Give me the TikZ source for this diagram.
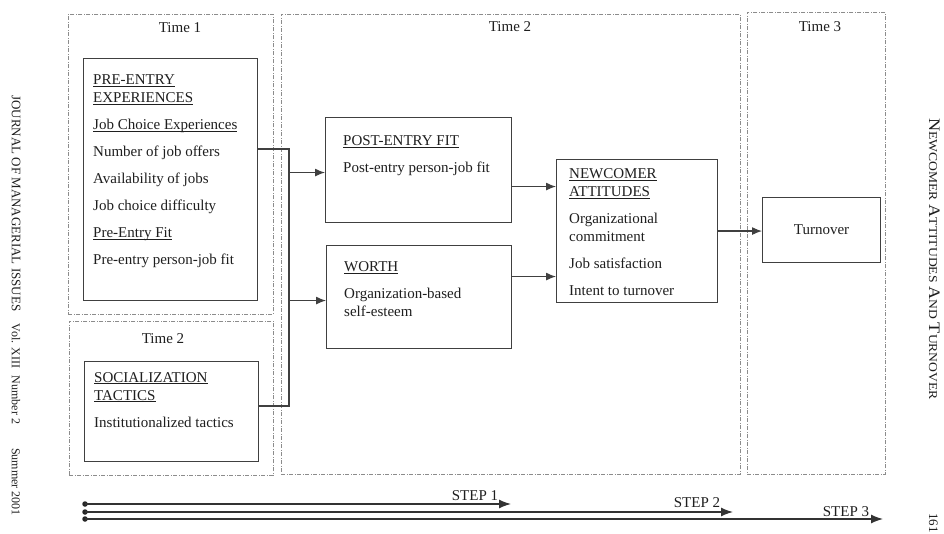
\documentclass[tikz,border=0pt]{standalone}
\usepackage{fontspec}
\usepackage{graphicx}
\setmainfont{Liberation Serif}
\usetikzlibrary{arrows.meta}

% text block whose baseline is that of its first line
\newcommand{\blocktext}[2]{\parbox[t]{#1}{\raggedright\fontsize{15}{18}\selectfont #2}}
% heading underline at a fixed distance below the baseline
\newcommand{\hd}[1]{\underline{\smash{#1}}}
% small capitals built from two sizes of capitals
\newcommand{\fsc}[2]{{\fontsize{16}{16}\selectfont #1}{\fontsize{12}{12}\selectfont #2}}

\begin{document}
\begin{tikzpicture}[x=1pt,y=-1pt,
  period/.style={draw=black!45, line width=0.6pt,
    dash pattern=on 4pt off 1.5pt on 1pt off 1.5pt,
    inner sep=0pt, anchor=north west},
  box/.style={draw=black!75, line width=1.1pt, inner sep=0pt, anchor=north west},
  timetext/.style={inner sep=0pt, font=\fontsize{15}{18}\selectfont, text=black!88, anchor=base},
  blk/.style={inner sep=0pt, anchor=base west, text=black!88},
  margin/.style={inner sep=0pt, rotate=-90, anchor=base west, text=black!88,
    font=\fontsize{13}{13}\selectfont},
  link/.style={draw=black!75, line width=1.1pt},
  arr/.style={link, -{Latex[length=10pt,width=8pt]}},
  steparrow/.style={draw=black!80, line width=1.3pt, -{Latex[length=12pt,width=9pt]}},
  dot/.style={circle, fill=black!85, inner sep=0pt, minimum size=5.5pt},
]
\useasboundingbox (0,0) rectangle (944,534);
\fill[white] (0,0) rectangle (944,534);

% ---- time periods ----
\node[period, minimum width=205pt, minimum height=300pt] (t1)  at (68,14)  {};
\node[period, minimum width=204pt, minimum height=154pt] (t2a) at (69,321) {};
\node[period, minimum width=459pt, minimum height=460pt] (t2)  at (281,14) {};
\node[period, minimum width=138pt, minimum height=462pt] (t3)  at (747,12) {};

\node[timetext] (t1lab)  at (180,33)  {Time 1};
\node[timetext] (t2alab) at (163,343) {Time 2};
\node[timetext] (t2lab)  at (510,32)  {Time 2};
\node[timetext] (t3lab)  at (820,32)  {Time 3};

% ---- construct boxes ----
\node[box, minimum width=174pt, minimum height=242pt] (pre)  at (83,58)   {};
\node[box, minimum width=174pt, minimum height=100pt] (soc)  at (84,361)  {};
\node[box, minimum width=186pt, minimum height=105pt] (post) at (325,117) {};
\node[box, minimum width=185pt, minimum height=103pt] (worth) at (326,245) {};
\node[box, minimum width=161pt, minimum height=143pt] (att)  at (556,159) {};
\node[box, minimum width=118pt, minimum height=65pt, font=\fontsize{15}{18}\selectfont,
      text=black!88] (turn) at (762,197) {Turnover};

\node[blk] (pretxt) at (93,85) {\blocktext{160pt}{%
  \hd{PRE-ENTRY}\\
  \hd{EXPERIENCES}\\[9pt]
  \hd{Job Choice Experiences}\\[9pt]
  Number of job offers\\[9pt]
  Availability of jobs\\[9pt]
  Job choice difficulty\\[9pt]
  \hd{Pre-Entry Fit}\\[9pt]
  Pre-entry person-job fit}};

\node[blk] (soctxt) at (94,382) {\blocktext{160pt}{%
  \hd{SOCIALIZATION}\\
  \hd{TACTICS}\\[9pt]
  Institutionalized tactics}};

\node[blk] (posttxt) at (343,146) {\blocktext{165pt}{%
  \hd{POST-ENTRY FIT}\\[9pt]
  Post-entry person-job fit}};

\node[blk] (worthtxt) at (344,272) {\blocktext{165pt}{%
  \hd{WORTH}\\[9pt]
  Organization-based\\
  self-esteem}};

\node[blk] (atttxt) at (569,179) {\blocktext{145pt}{%
  \hd{NEWCOMER}\\
  \hd{ATTITUDES}\\[9pt]
  Organizational\\
  commitment\\[9pt]
  Job satisfaction\\[9pt]
  Intent to turnover}};

% ---- connectors ----
\coordinate (busT) at (289,149);
\coordinate (busB) at (289,406);
\draw[link] (pre.east |- busT) -- (busT) -- (busB) -- (soc.east |- busB);

\coordinate (inPost)   at ([yshift=-2.5pt]post.west);
\coordinate (inWorth)  at ([yshift=-3.5pt]worth.west);
\coordinate (outPost)  at ([yshift=-16.5pt]post.east);
\coordinate (outWorth) at ([yshift=20.5pt]worth.east);
\draw[arr] (inPost -| busT) -- (inPost);
\draw[arr] (inWorth -| busT) -- (inWorth);
\draw[arr] (outPost) -- (outPost -| att.west);
\draw[arr] (outWorth) -- (outWorth -| att.west);
\draw[arr] (att.east) -- (att.east -| turn.west);

% ---- analysis steps ----
\node[dot] (s1a) at (85,504) {};
\node[dot] (s2a) at (85,512) {};
\node[dot] (s3a) at (85,519) {};
\coordinate (s1b) at (511,504);
\coordinate (s2b) at (733,512);
\coordinate (s3b) at (883,519);
\draw[steparrow] (s1a.center) -- (s1b);
\draw[steparrow] (s2a.center) -- (s2b);
\draw[steparrow] (s3a.center) -- (s3b);
\node[timetext] (step1) at (475,500) {STEP 1};
\node[timetext] (step2) at (697,507) {STEP 2};
\node[timetext] (step3) at (846,516) {STEP 3};

% ---- page margins ----
\node[margin] (jname) at (12,95)  {JOURNAL OF MANAGERIAL ISSUES};
\node[margin, anchor=base, font=\fontsize{12}{12}\selectfont] (jvol)  at (12,346) {Vol. XIII};
\node[margin, anchor=base, font=\fontsize{12}{12}\selectfont] (jnum)  at (12,400) {Number 2};
\node[margin, anchor=base, font=\fontsize{12}{12}\selectfont] (jdate) at (12,482) {Summer 2001};
\node[margin] (rtitle) at (929,118) {\scalebox{1.135}[1]{\fsc{N}{EWCOMER} \fsc{A}{TTITUDES} \fsc{A}{ND} \fsc{T}{URNOVER}}};
\node[margin] (pnum) at (929,513) {161};
\end{tikzpicture}
\end{document}
